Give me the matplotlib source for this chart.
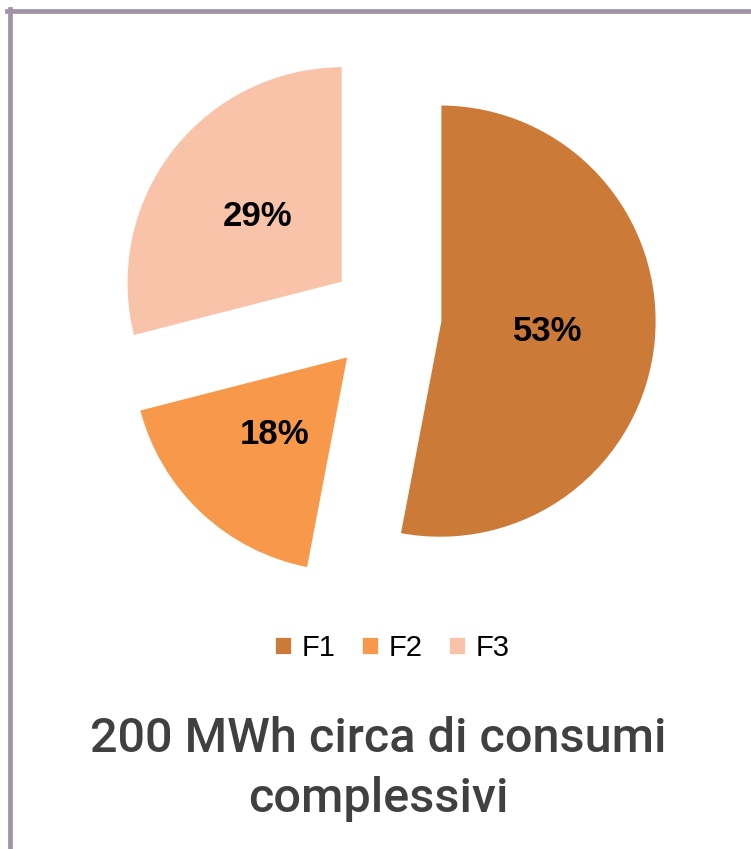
import matplotlib.pyplot as plt
from matplotlib.lines import Line2D

labels = ["F1", "F2", "F3"]
shares = [53, 18, 29]
colors = ["#CC7A38", "#F8984A", "#F9C3A9"]
title_lines = ["200 MWh circa di consumi", "complessivi"]

W, H = 751, 849
fig = plt.figure(figsize=(W / 100, H / 100), dpi=100)

# pie centre (px) and radius (px)
cx, cy, r = 386, 316, 217
ax = fig.add_axes([0, 0, 1, 1])
wedges, texts, autotexts = ax.pie(
    shares, colors=colors, startangle=90, counterclock=False,
    explode=[0.25, 0.25, 0.25], autopct=lambda p: f"{round(p)}%", pctdistance=0.5,
    wedgeprops=dict(edgecolor="white", linewidth=2),
    textprops=dict(fontsize=25, fontweight="bold", color="black",
                   family="Liberation Sans"))
ax.set_xlim(-cx / r, (W - cx) / r)
ax.set_ylim(-(H - cy) / r, cy / r)
ax.set_aspect("auto")
ax.axis("off")

# frame lines (top and left)
frame_col = "#A093A7"
fig.add_artist(Line2D([7 / W, 1], [1 - 10.5 / H, 1 - 10.5 / H],
                      color=frame_col, linewidth=3.4, transform=fig.transFigure))
fig.add_artist(Line2D([9.5 / W, 9.5 / W], [0, 1 - 8.5 / H],
                      color=frame_col, linewidth=3.4, transform=fig.transFigure))

fig.legend(wedges, labels, loc="center", bbox_to_anchor=(392 / W, 1 - 648 / H),
           ncol=3, frameon=False, handlelength=0.62, handleheight=0.62,
           handletextpad=0.34, columnspacing=0.86,
           prop=dict(family="Liberation Sans", size=21))

for line, base in zip(title_lines, [752, 812]):
    fig.text(378 / W, 1 - base / H, line, ha="center", va="baseline",
             fontsize=35, color="#404040", family="Roboto", fontweight="medium")

fig.savefig("out.png", dpi=100)
